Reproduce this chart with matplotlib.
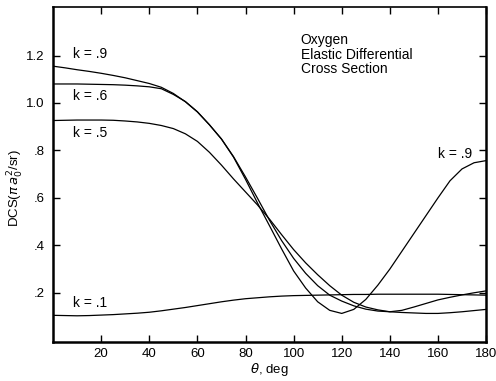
import matplotlib
matplotlib.use("Agg")
import matplotlib.pyplot as plt

plt.rcParams['font.family'] = ['Liberation Sans', 'DejaVu Sans']
plt.rcParams['mathtext.fontset'] = 'dejavusans'

# angle grid (deg)
theta = [0, 5, 10, 15, 20, 25, 30, 35, 40, 45, 50, 55, 60, 65, 70, 75, 80, 85, 90,
         95, 100, 105, 110, 115, 120, 125, 130, 135, 140, 145, 150, 155, 160, 165,
         170, 175, 180]

# DCS values, units of pi a0^2 / sr
dcs_k09 = [1.155, 1.148, 1.140, 1.133, 1.125, 1.116, 1.106, 1.094, 1.082, 1.066,
           1.040, 1.005, 0.962, 0.908, 0.848, 0.772, 0.678, 0.578, 0.482,
           0.385, 0.292, 0.220, 0.162, 0.126, 0.113, 0.130, 0.172, 0.232, 0.300,
           0.375, 0.450, 0.525, 0.600, 0.672, 0.722, 0.748, 0.757]
dcs_k06 = [1.080, 1.080, 1.080, 1.079, 1.078, 1.077, 1.075, 1.072, 1.068, 1.060,
           1.036, 1.006, 0.963, 0.908, 0.848, 0.774, 0.688, 0.598, 0.505,
           0.420, 0.345, 0.282, 0.230, 0.190, 0.165, 0.145, 0.131, 0.123, 0.120,
           0.126, 0.140, 0.155, 0.170, 0.181, 0.191, 0.200, 0.208]
dcs_k05 = [0.926, 0.927, 0.928, 0.928, 0.928, 0.927, 0.924, 0.920, 0.914, 0.905,
           0.892, 0.870, 0.838, 0.792, 0.738, 0.680, 0.625, 0.570, 0.510,
           0.445, 0.382, 0.326, 0.276, 0.230, 0.190, 0.160, 0.140, 0.128, 0.120,
           0.117, 0.115, 0.113, 0.113, 0.116, 0.120, 0.125, 0.130]
dcs_k01 = [0.105, 0.104, 0.103, 0.104, 0.106, 0.108, 0.111, 0.114, 0.118, 0.124,
           0.131, 0.138, 0.146, 0.154, 0.162, 0.169, 0.175, 0.179, 0.183,
           0.186, 0.188, 0.189, 0.190, 0.191, 0.192, 0.193, 0.193, 0.194, 0.194,
           0.194, 0.194, 0.194, 0.194, 0.193, 0.192, 0.191, 0.190]

xticks = [20, 40, 60, 80, 100, 120, 140, 160, 180]
yticks = [0.2, 0.4, 0.6, 0.8, 1.0, 1.2]
ytick_labels = ['.2', '.4', '.6', '.8', '1.0', '1.2']

fig = plt.figure(figsize=(4.96, 3.81), dpi=100)
ax = fig.add_axes([0.107, 0.102, 0.873, 0.880])

for y in (dcs_k09, dcs_k06, dcs_k05, dcs_k01):
    ax.plot(theta, y, color='black', lw=0.9)

ax.set_xlim(0, 180)
ax.set_ylim(-0.008, 1.405)
ax.set_xticks(xticks)
ax.set_xticklabels([str(t) for t in xticks])
ax.set_yticks(yticks)
ax.set_yticklabels(ytick_labels)
ax.tick_params(direction='in', top=True, right=True, length=5, width=1,
               labelsize=9.5)
ax.tick_params(axis='x', pad=4)
ax.tick_params(axis='y', pad=6)

for side in ('left', 'bottom', 'right'):
    ax.spines[side].set_linewidth(1.8)
ax.spines['top'].set_linewidth(1.2)

ax.set_xlabel(r'$\theta$, deg', fontsize=9.5, labelpad=1)
ax.set_ylabel(r'DCS($\pi\,a_0^2$/sr)', fontsize=9.5)
ax.yaxis.set_label_coords(-0.062, 0.46)

# curve labels
ax.text(8.3, 1.207, 'k = .9', fontsize=10, va='center')
ax.text(8.3, 1.030, 'k = .6', fontsize=10, va='center')
ax.text(8.3, 0.873, 'k = .5', fontsize=10, va='center')
ax.text(8.3, 0.157, 'k = .1', fontsize=10, va='center')
ax.text(174, 0.785, 'k = .9', fontsize=10, va='center', ha='right')

ax.text(103, 1.295, 'Oxygen\nElastic Differential\nCross Section',
        fontsize=10, va='top', linespacing=1.05)

fig.savefig('out.png', dpi=100)
